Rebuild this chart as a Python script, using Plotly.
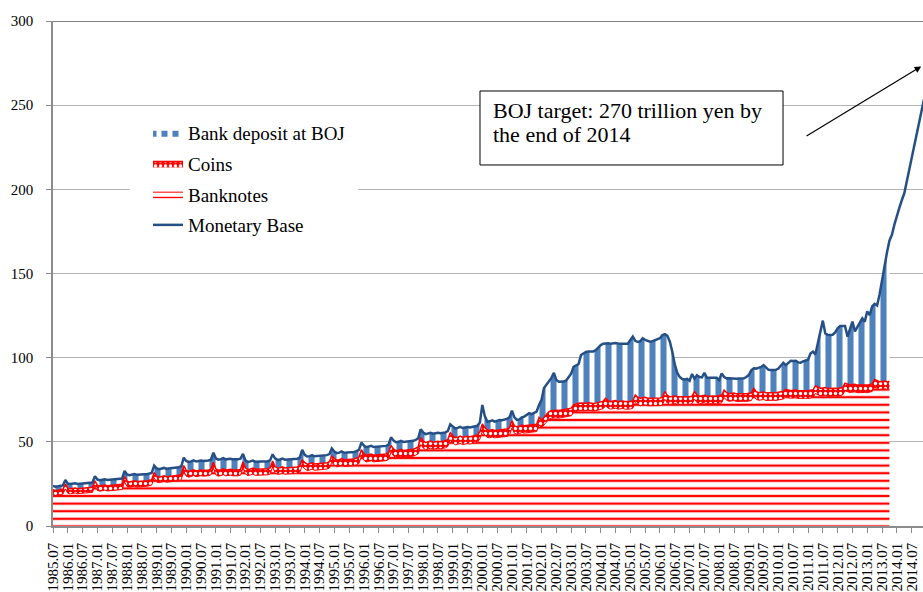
import plotly.graph_objects as go

# monthly categories 1985.07 ... 2014.12
months = [f"{y}.{m:02d}" for y in range(1985, 2015) for m in range(1, 13) if not (y == 1985 and m < 7)]

tick_labels = ["1985.07", "1986.01", "1986.07", "1987.01", "1987.07", "1988.01", "1988.07", "1989.01",
               "1989.07", "1990.01", "1990.07", "1991.01", "1991.07", "1992.01", "1992.07", "1993.01",
               "1993.07", "1994.01", "1994.07", "1995.01", "1995.07", "1996.01", "1996.07", "1997.01",
               "1997.07", "1998.01", "1998.07", "1999.01", "1999.07", "2000.01", "2000.07", "2001.01",
               "2001.07", "2002.01", "2002.07", "2003.01", "2003.07", "2004.01", "2004.07", "2005.01",
               "2005.07", "2006.01", "2006.07", "2007.01", "2007.07", "2008.01", "2008.07", "2009.01",
               "2009.07", "2010.01", "2010.07", "2011.01", "2011.07", "2012.01", "2012.07", "2013.01",
               "2013.07", "2014.01", "2014.07"]

# Monetary base (trillion yen), 1985.07 - 2014.12
monetary_base = [
    23.8, 23.4, 23.6, 23.9, 24.1, 27.3,
    25.2, 24.9, 25.1, 25.4, 25.0, 25.1, 25.4, 25.2, 25.3, 25.5, 25.8, 29.6,
    27.6, 27.2, 27.4, 27.8, 27.3, 27.4, 27.7, 27.5, 27.6, 27.8, 28.2, 32.7,
    30.6, 30.2, 30.5, 30.9, 30.4, 30.6, 30.9, 30.7, 30.8, 31.1, 31.5, 35.8,
    34.2, 33.7, 34.0, 34.5, 34.0, 34.2, 34.6, 34.4, 34.6, 34.9, 35.5, 40.6,
    38.6, 38.0, 38.4, 39.0, 38.3, 38.5, 38.9, 38.6, 38.7, 38.9, 39.4, 43.5,
    40.2, 39.4, 39.7, 40.3, 39.6, 39.7, 40.0, 39.6, 39.5, 39.6, 40.0, 42.8,
    38.9, 38.1, 38.4, 38.9, 38.2, 38.2, 38.5, 38.2, 38.3, 38.5, 39.0, 42.6,
    40.2, 39.3, 39.5, 40.1, 39.4, 39.5, 39.9, 39.6, 39.8, 40.0, 40.6, 45.3,
    42.3, 41.3, 41.5, 42.1, 41.4, 41.5, 41.9, 41.6, 41.8, 42.1, 42.7, 46.1,
    44.3, 43.3, 43.6, 44.3, 43.5, 43.6, 44.0, 43.7, 44.0, 44.5, 45.2, 49.5,
    47.8, 46.8, 47.0, 47.6, 46.9, 47.0, 47.4, 47.1, 47.3, 47.6, 48.3, 52.7,
    50.8, 49.8, 50.0, 50.6, 49.9, 50.0, 50.5, 50.2, 50.6, 51.2, 52.0, 57.4,
    55.6, 54.6, 54.8, 55.4, 54.8, 55.0, 55.4, 55.1, 55.3, 55.6, 56.4, 60.4,
    59.2, 58.0, 58.3, 58.9, 58.2, 58.4, 58.8, 58.5, 58.7, 59.0, 59.5, 61.5,
    71.9, 65.3, 62.0, 62.2, 62.8, 62.0, 62.3, 63.0, 62.8, 63.2, 63.6, 64.5,
    68.5, 64.5, 63.0, 63.3, 64.5, 65.0, 66.0, 67.0, 66.5, 67.5, 68.0, 71.9,
    75.0, 82.0, 83.8, 85.5, 88.0, 91.0, 86.7, 85.7, 85.6, 85.8, 86.5, 88.7,
    90.5, 94.6, 95.6, 96.2, 101.6, 102.6, 103.4, 103.6, 103.5, 103.7, 104.5, 106.2,
    107.5, 108.3, 108.6, 108.5, 108.3, 108.5, 108.7, 108.4, 108.5, 108.3, 108.2, 108.3,
    110.5, 112.5, 110.0, 109.3, 109.8, 111.6, 110.5, 110.0, 109.5, 109.8, 110.3, 110.9,
    111.6, 113.5, 114.0, 113.0, 109.5, 103.5, 96.0, 91.0, 88.5, 87.3, 87.1, 87.4,
    86.3, 90.3, 87.5, 89.5, 88.5, 88.3, 91.0, 88.0, 87.9, 87.8, 87.9, 88.0,
    86.7, 90.7, 88.5, 87.7, 87.8, 87.6, 87.7, 87.5, 87.6, 87.8, 87.7, 88.5,
    89.7, 92.5, 93.7, 93.5, 93.8, 94.5, 95.6, 94.0, 92.8, 92.7, 92.6, 92.8,
    93.5, 95.5, 97.0, 95.6, 97.0, 98.2, 98.0, 98.2, 97.2, 97.0, 97.8, 98.2,
    98.8, 102.5, 103.6, 102.0, 108.5, 114.0, 122.0, 114.4, 113.6, 113.5, 113.6, 115.0,
    117.5, 118.8, 118.6, 118.8, 112.5, 116.5, 121.4, 115.6, 118.5, 121.0, 123.4, 121.4,
    127.5, 125.3, 130.5, 132.0, 131.0, 137.5, 146.0, 156.5, 162.5, 169.5, 173.0, 179.0,
    184.5, 189.0, 193.5, 197.5, 204.5, 211.5, 218.5, 225.5, 232.5, 239.5, 246.5, 253.5,
]

# Banknotes (trillion yen), 1985.07 - 2013.10
banknotes = [
    18.6, 18.2, 18.4, 18.7, 18.9, 22.1,
    19.4, 19.1, 19.3, 19.6, 19.2, 19.3, 19.6, 19.4, 19.5, 19.7, 20.0, 23.8,
    21.1, 20.7, 20.9, 21.3, 20.8, 20.9, 21.2, 21.0, 21.1, 21.3, 21.7, 26.2,
    23.4, 23.0, 23.3, 23.7, 23.2, 23.4, 23.7, 23.5, 23.6, 23.9, 24.3, 28.6,
    26.2, 25.7, 26.0, 26.5, 26.0, 26.2, 26.6, 26.4, 26.6, 26.9, 27.5, 32.6,
    29.6, 29.0, 29.4, 30.0, 29.3, 29.5, 29.9, 29.6, 29.7, 29.9, 30.4, 34.5,
    30.4, 29.6, 29.9, 30.5, 29.8, 29.9, 30.2, 29.8, 29.7, 29.8, 30.2, 34.5,
    30.8, 30.0, 30.3, 30.8, 30.1, 30.1, 30.4, 30.1, 30.2, 30.4, 30.9, 35.0,
    31.6, 30.7, 30.9, 31.5, 30.8, 30.9, 31.3, 31.0, 31.2, 31.4, 32.0, 35.5,
    34.0, 33.0, 33.2, 33.8, 33.1, 33.2, 33.6, 33.3, 33.5, 33.8, 34.4, 37.8,
    36.2, 35.2, 35.5, 36.2, 35.4, 35.5, 35.9, 35.6, 35.9, 36.4, 37.1, 41.4,
    39.0, 38.0, 38.2, 38.8, 38.1, 38.2, 38.6, 38.3, 38.5, 38.8, 39.5, 43.9,
    41.7, 40.7, 40.9, 41.5, 40.8, 40.9, 41.4, 41.1, 41.5, 42.1, 42.9, 48.3,
    46.4, 45.4, 45.6, 46.2, 45.6, 45.8, 46.2, 45.9, 46.1, 46.4, 47.2, 51.2,
    49.4, 48.2, 48.5, 49.1, 48.4, 48.6, 49.0, 48.7, 48.9, 49.2, 49.7, 51.7,
    56.2, 54.1, 52.6, 52.4, 52.9, 52.4, 52.5, 52.8, 52.6, 52.8, 53.2, 53.9,
    58.2, 55.1, 54.6, 54.9, 55.6, 55.2, 55.4, 55.8, 55.6, 55.8, 56.1, 60.1,
    58.5, 60.0, 62.0, 63.5, 64.0, 64.3, 64.2, 64.1, 64.3, 64.5, 64.7, 65.1,
    65.5, 67.5, 68.0, 68.4, 68.5, 68.3, 68.4, 68.7, 68.4, 68.3, 68.5, 68.8,
    69.1, 69.7, 71.4, 70.0, 69.4, 69.7, 70.0, 69.4, 69.5, 69.8, 69.4, 69.3,
    69.5, 70.0, 73.3, 72.0, 71.4, 71.7, 72.0, 71.4, 71.4, 71.7, 71.4, 71.3,
    71.5, 72.0, 75.3, 73.0, 72.3, 72.5, 72.8, 72.3, 72.3, 72.5, 72.3, 72.1,
    72.3, 72.7, 75.3, 73.3, 72.7, 72.9, 73.2, 72.6, 72.7, 73.0, 72.7, 72.6,
    72.8, 73.2, 76.3, 74.7, 74.1, 74.3, 74.5, 74.0, 74.1, 74.4, 74.1, 74.0,
    74.2, 74.5, 77.3, 75.3, 74.7, 74.9, 75.1, 74.6, 74.7, 75.0, 74.7, 74.6,
    74.8, 75.1, 75.5, 76.7, 76.3, 75.9, 76.1, 76.3, 75.8, 75.9, 76.2, 75.9,
    75.8, 76.0, 76.4, 78.7, 77.8, 77.3, 77.5, 77.7, 77.2, 77.3, 77.6, 77.3,
    77.2, 77.4, 77.8, 80.3, 79.8, 79.3, 79.5, 79.7, 79.2, 79.3, 79.6, 79.3,
    79.2, 79.4, 79.9, 82.6, 81.7, 81.2, 81.4, 81.6, 81.2, 81.3,
]

# Coins (trillion yen), 1985.07 - 2013.10
coins = [
    2.9, 2.9, 2.9, 2.9, 2.9, 2.9,
    3.0, 3.0, 3.0, 3.0, 3.0, 3.0, 3.0, 3.0, 3.0, 3.0, 3.0, 3.0,
    3.1, 3.1, 3.1, 3.1, 3.1, 3.1, 3.1, 3.1, 3.1, 3.1, 3.1, 3.1,
    3.2, 3.2, 3.2, 3.2, 3.2, 3.2, 3.2, 3.2, 3.2, 3.2, 3.2, 3.2,
    3.3, 3.3, 3.3, 3.3, 3.3, 3.3, 3.3, 3.3, 3.3, 3.3, 3.3, 3.3,
    3.4, 3.4, 3.4, 3.4, 3.4, 3.4, 3.4, 3.4, 3.4, 3.4, 3.4, 3.4,
    3.5, 3.5, 3.5, 3.5, 3.5, 3.5, 3.5, 3.5, 3.5, 3.5, 3.5, 3.5,
    3.6, 3.6, 3.6, 3.6, 3.6, 3.6, 3.6, 3.6, 3.6, 3.6, 3.6, 3.6,
    3.7, 3.7, 3.7, 3.7, 3.7, 3.7, 3.7, 3.7, 3.7, 3.7, 3.7, 3.7,
    3.8, 3.8, 3.8, 3.8, 3.8, 3.8, 3.8, 3.8, 3.8, 3.8, 3.8, 3.8,
    3.9, 3.9, 3.9, 3.9, 3.9, 3.9, 3.9, 3.9, 3.9, 3.9, 3.9, 3.9,
    4.0, 4.0, 4.0, 4.0, 4.0, 4.0, 4.0, 4.0, 4.0, 4.0, 4.0, 4.0,
    4.1, 4.1, 4.1, 4.1, 4.1, 4.1, 4.1, 4.1, 4.1, 4.1, 4.1, 4.1,
    4.2, 4.2, 4.2, 4.2, 4.2, 4.2, 4.2, 4.2, 4.2, 4.2, 4.2, 4.2,
    4.3, 4.3, 4.3, 4.3, 4.3, 4.3, 4.3, 4.3, 4.3, 4.3, 4.3, 4.3,
    4.4, 4.4, 4.4, 4.4, 4.4, 4.4, 4.4, 4.4, 4.4, 4.4, 4.4, 4.4,
    4.4, 4.4, 4.4, 4.4, 4.4, 4.4, 4.4, 4.4, 4.4, 4.4, 4.4, 4.4,
    4.5, 4.5, 4.5, 4.5, 4.5, 4.5, 4.5, 4.5, 4.5, 4.5, 4.5, 4.5,
    4.5, 4.5, 4.5, 4.5, 4.5, 4.5, 4.5, 4.5, 4.5, 4.5, 4.5, 4.5,
    4.5, 4.5, 4.5, 4.5, 4.5, 4.5, 4.5, 4.5, 4.5, 4.5, 4.5, 4.5,
    4.5, 4.5, 4.5, 4.5, 4.5, 4.5, 4.5, 4.5, 4.5, 4.5, 4.5, 4.5,
    4.5, 4.5, 4.5, 4.5, 4.5, 4.5, 4.5, 4.5, 4.5, 4.5, 4.5, 4.5,
    4.5, 4.5, 4.5, 4.5, 4.5, 4.5, 4.5, 4.5, 4.5, 4.5, 4.5, 4.5,
    4.5, 4.5, 4.5, 4.5, 4.5, 4.5, 4.5, 4.5, 4.5, 4.5, 4.5, 4.5,
    4.5, 4.5, 4.5, 4.5, 4.5, 4.5, 4.5, 4.5, 4.5, 4.5, 4.5, 4.5,
    4.5, 4.5, 4.5, 4.5, 4.5, 4.5, 4.5, 4.5, 4.5, 4.5, 4.5, 4.5,
    4.5, 4.5, 4.5, 4.5, 4.5, 4.5, 4.5, 4.5, 4.5, 4.5, 4.5, 4.5,
    4.5, 4.5, 4.5, 4.5, 4.5, 4.5, 4.5, 4.5, 4.5, 4.5, 4.5, 4.5,
    4.5, 4.5, 4.5, 4.5, 4.5, 4.5, 4.5, 4.5, 4.5, 4.5,
]

# Bank deposits at BOJ = monetary base - banknotes - coins
n_hist = len(banknotes)
bank_deposits = [round(monetary_base[i] - banknotes[i] - coins[i], 2) for i in range(n_hist)]
hist_months = months[:n_hist]

SERIF = "Liberation Serif, Times New Roman, serif"

fig = go.Figure()
fig.add_trace(go.Scatter(
    x=hist_months, y=banknotes, name="Banknotes", stackgroup="s", mode="lines",
    line=dict(color="#FF0000", width=1), fillcolor="white",
    fillpattern=dict(shape="-", fgcolor="#FF0000", bgcolor="white", fgopacity=1,
                     size=7.6, solidity=0.3),
    legendgroup="g3", legendrank=3))
fig.add_trace(go.Scatter(
    x=hist_months, y=coins, name="Coins", stackgroup="s", mode="lines",
    line=dict(color="#FF0000", width=1.5), fillcolor="#FF0000",
    fillpattern=dict(shape=".", fgcolor="white", bgcolor="#FF0000", fgopacity=1,
                     size=5, solidity=0.35),
    legendgroup="g2", legendrank=2))
fig.add_trace(go.Scatter(
    x=hist_months, y=bank_deposits, name="Bank deposit at BOJ", stackgroup="s", mode="lines",
    line=dict(color="#4F81BD", width=0), fillcolor="white",
    fillpattern=dict(shape="|", fgcolor="#4F81BD", bgcolor="white", fgopacity=1,
                     size=11, solidity=0.55),
    legendgroup="g1", legendrank=1))
fig.add_trace(go.Scatter(
    x=months, y=monetary_base, name="Monetary Base", mode="lines",
    line=dict(color="#264F86", width=2.5),
    legendgroup="g4", legendrank=4))

fig.update_layout(
    width=923, height=592,
    margin=dict(l=53, r=0, t=21, b=66),
    paper_bgcolor="white", plot_bgcolor="white",
    font=dict(family=SERIF, color="black", size=15),
    showlegend=True,
    legend=dict(x=0.1092, y=0.816, xanchor="left", yanchor="top",
                bgcolor="rgba(0,0,0,0)", font=dict(family=SERIF, size=19),
                traceorder="grouped", tracegroupgap=3, itemwidth=30),
    xaxis=dict(type="category", categoryarray=months, range=[0, 352.6],
               tickmode="array", tickvals=tick_labels, ticktext=tick_labels,
               tickangle=-90, ticks="outside", ticklen=5, tickcolor="#8C8C8C",
               showline=True, linecolor="#8C8C8C", linewidth=1.5,
               showgrid=False, automargin=False, ticklabelstandoff=4,
               tickfont=dict(family=SERIF, size=15)),
    yaxis=dict(range=[0, 300], dtick=50, tick0=0, showgrid=True, gridcolor="#B3B3B3",
               gridwidth=1, zeroline=False, showline=True, linecolor="#8C8C8C", linewidth=1.5,
               ticks="outside", ticklen=5, tickcolor="#8C8C8C", automargin=False,
               ticklabelstandoff=10, tickfont=dict(family=SERIF, size=15)),
)

# top border line at 300
fig.add_shape(type="line", xref="paper", yref="y", x0=0, x1=1, y0=300, y1=300,
              line=dict(color="black", width=1), layer="above")
# white background behind the legend
fig.add_shape(type="rect", xref="paper", yref="paper", x0=0.0885, x1=0.3506, y0=0.5604, y1=0.8198,
              line=dict(width=0), fillcolor="white", layer="above")
# target text box
fig.add_shape(type="rect", xref="paper", yref="paper", x0=0.4908, x1=0.8391, y0=0.7149, y1=0.8614,
              line=dict(color="black", width=1), fillcolor="white", layer="above")
fig.add_annotation(xref="paper", yref="paper", x=0.5034, y=0.8218, xanchor="left", yanchor="middle",
                   text="BOJ target: 270 trillion yen by", showarrow=False,
                   font=dict(family=SERIF, size=22, color="black"))
fig.add_annotation(xref="paper", yref="paper", x=0.5034, y=0.7743, xanchor="left", yanchor="middle",
                   text="the end of 2014", showarrow=False,
                   font=dict(family=SERIF, size=22, color="black"))
# arrow toward the target
fig.add_annotation(x=351.9, y=273, xref="x", yref="y", axref="x", ayref="y", ax=304.8, ay=231.1,
                   text="", showarrow=True, arrowhead=2, arrowsize=1.1, arrowwidth=1.2,
                   arrowcolor="black")

fig.write_html("out.html", config={"displayModeBar": False},
               post_script="document.body.style.margin='0px';")
